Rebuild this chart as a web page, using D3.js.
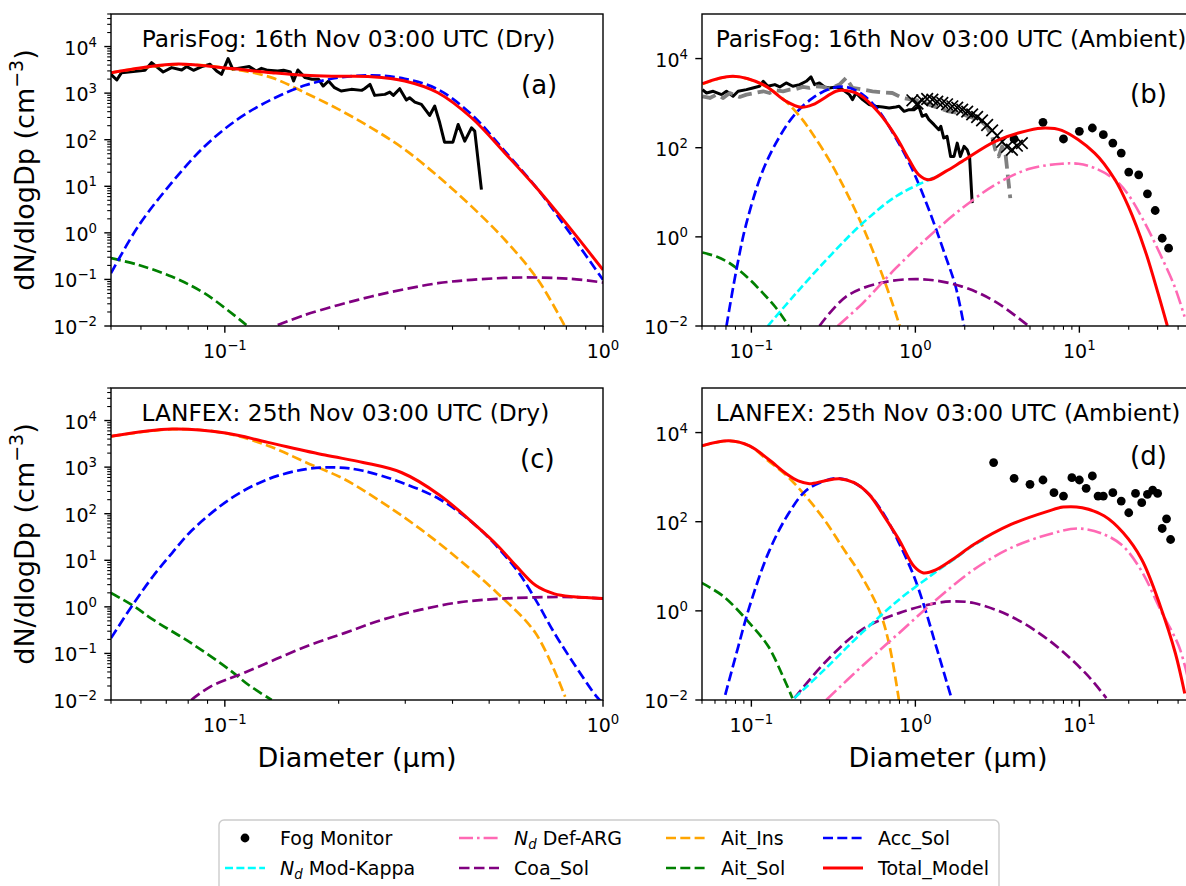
<!DOCTYPE html>
<html>
<head>
<meta charset="utf-8">
<script src="https://cdn.jsdelivr.net/npm/d3@7"></script>
<style>
  body { margin: 0; background: #fff; }
  text { font-family: "DejaVu Sans", sans-serif; fill: #000; }
</style>
</head>
<body>
<svg id="fig" width="1186" height="886"></svg>
<script>
// ---------------- data (Dp in um, N in cm^-3) ----------------

// (a) ParisFog dry
const aObsDp = [0.050,0.0518,0.0533,0.0615,0.0640,0.0687,0.0723,0.0769,0.0793,0.0826,0.0869,0.0914,0.0951,0.0980,0.102,0.105,0.111,0.116,0.121,0.125,0.130,0.138,0.143,0.149,0.152,0.156,0.163,0.170,0.177,0.182,0.188,0.195,0.203,0.216,0.230,0.234,0.242,0.249,0.265,0.273,0.279,0.290,0.302,0.308,0.318,0.331,0.348,0.359,0.370,0.381,0.401,0.414,0.431,0.449,0.458,0.477];
const aObsN  = [2535,1915,2750,3090,4520,2845,3530,3140,3710,3090,3710,4160,2990,2535,5510,3245,3530,3710,2990,3410,3090,2990,3090,2845,1820,3140,2150,1980,1980,1420,1820,1310,1110,1205,1146,1245,1542,895,940,1055,895,1245,710,796,643,573,332,527,231,88.5,88.5,212,93,180,153,8.5];
const aAitSolDp = [0.05, 0.059, 0.0723, 0.0885, 0.114];
const aAitSolN  = [0.286, 0.206, 0.115, 0.05, 0.0105];
const aAitInsDp = [0.05, 0.0753, 0.104, 0.133, 0.163, 0.2, 0.244, 0.299, 0.366, 0.449, 0.55, 0.673, 0.79];
const aAitInsN  = [2750, 4150, 3300, 2150, 1020, 447, 180, 61.5, 16.4, 3.7, 0.71, 0.098, 0.0105];
const aAccDp = [0.05, 0.059, 0.0723, 0.0885, 0.108, 0.133, 0.163, 0.2, 0.244, 0.299, 0.366, 0.449, 0.55, 0.673, 0.824, 1.0];
const aAccN  = [0.136, 1.38, 11.8, 72.6, 272, 733, 1470, 2150, 2410, 2040, 1200, 349, 56.6, 8.5, 0.91, 0.098];
const aCoaDp = [0.138, 0.163, 0.2, 0.244, 0.299, 0.366, 0.449, 0.608, 0.824, 1.0];
const aCoaN  = [0.0105, 0.0173, 0.0283, 0.043, 0.0617, 0.083, 0.098, 0.11, 0.103, 0.0857];
const aTotDp = [0.05, 0.0604, 0.0753, 0.104, 0.133, 0.163, 0.2, 0.244, 0.299, 0.366, 0.449, 0.55, 0.673, 0.824, 1.0];
const aTotN  = [2750, 3520, 4200, 3360, 2750, 2410, 2300, 2250, 1820, 1020, 296, 52, 8.5, 1.17, 0.16];

// (b) ParisFog ambient
const bObsDp = [0.0503,0.0533,0.0585,0.0658,0.0705,0.0774,0.0830,0.0933,0.102,0.112,0.118,0.126,0.139,0.149,0.163,0.179,0.197,0.216,0.231,0.243,0.260,0.279,0.299,0.328,0.360,0.396,0.414,0.434,0.477,0.523,0.574,0.631,0.692,0.760,0.796,0.854,0.916,0.982,1.05,1.10,1.16,1.21,1.30,1.39,1.43,1.49,1.56,1.64,1.72,1.80,1.88,1.98,2.07,2.14,2.22];
const bObsN  = [2010,1690,1845,1552,1845,1425,1845,2010,2190,2390,3095,2390,2605,2310,2840,2390,2605,3095,3870,2605,2840,2310,2190,2310,2010,1552,1200,1690,1200,925,849,820,778,820,849,655,714,714,849,506,552,426,329,254,301,165,180,63.8,63.8,127,63.8,107,90,63.8,5.7];
const bAmbDp = [0.0503,0.0558,0.0612,0.0673,0.0738,0.0849,0.0933,0.105,0.118,0.129,0.142,0.156,0.171,0.187,0.206,0.226,0.248,0.272,0.299,0.344,0.378,0.414,0.477,0.548,0.631,0.724,0.834,0.959,1.10,1.21,1.39,1.60,1.84,2.12,2.44,2.67,2.94,3.07,3.22,3.38,3.54,3.79];
const bAmbN  = [1425,1306,1552,1306,1690,1377,1552,1690,1845,1690,1943,1845,2010,2080,2310,2190,2390,2310,2080,2605,3680,2190,2010,1845,1750,1690,1306,1200,1100,925,778,655,601,506,426,329,180,90,63.8,107,75.9,7.4];
const bCdpDp = [0.959,1.03,1.10,1.18,1.27,1.36,1.46,1.56,1.68,1.80,1.93,2.07,2.22,2.38,2.55,2.74,2.94,3.15,3.38,3.62,3.88,4.16,4.46];
const bCdpN  = [1158,975,1158,1240,1200,1081,1009,942,849,792,714,644,561,489,411,323,245,186,136,104,90,111,127];
const bFogDp = [4, 6, 8, 10, 12, 14, 16, 18, 20, 23, 26, 29, 32, 35];
const bFogN  = [157, 371, 157, 233, 277, 196, 127, 75.9, 28.4, 24.7, 9.25, 3.9, 0.93, 0.556];
const bAitSolDp = [0.0503, 0.0612, 0.0738, 0.0933, 0.118, 0.142, 0.169];
const bAitSolN  = [0.445, 0.361, 0.256, 0.129, 0.054, 0.025, 0.01];
const bAitInsDp = [0.0503, 0.0774, 0.118, 0.163, 0.179, 0.206, 0.237, 0.299, 0.378, 0.477, 0.601, 0.724, 0.803];
const bAitInsN  = [2700, 4000, 2550, 1080, 760, 415, 200, 52, 10.4, 1.71, 0.215, 0.0323, 0.01];
const bAccDp = [0.0705, 0.081, 0.0933, 0.118, 0.149, 0.187, 0.237, 0.299, 0.378, 0.477, 0.601, 0.76, 0.96, 1.21, 1.53, 1.76, 1.98];
const bAccN  = [0.01, 0.181, 2.03, 32, 180, 601, 1306, 2080, 2306, 1552, 655, 165, 32, 4.04, 0.361, 0.077, 0.01];
const bCoaDp = [0.26, 0.378, 0.601, 1.1, 1.93, 3.07, 4.9];
const bCoaN  = [0.01, 0.0456, 0.091, 0.112, 0.0766, 0.0352, 0.01];
const bKapDp = [0.126, 0.187, 0.299, 0.477, 0.76, 1.21, 1.4];
const bKapN  = [0.01, 0.054, 0.361, 2.03, 8.05, 19.1, 24];
const bArgDp = [0.336, 0.477, 0.76, 1.21, 1.93, 3.07, 4.9, 7.81, 9.86, 12.4, 16.5, 19.9, 25.1, 31.6, 38.1, 43.8];
const bArgN  = [0.01, 0.0323, 0.198, 1.02, 4.4, 14.8, 33.2, 43.7, 43.7, 34.9, 19.1, 8.8, 2.03, 0.361, 0.0766, 0.0162];
const bTotDp = [0.0503, 0.0774, 0.118, 0.163, 0.201, 0.237, 0.328, 0.36, 0.455, 0.601, 0.76, 0.916, 1.05, 1.21, 1.53, 1.93, 3.07, 4.9, 6.18, 7.81, 12.4, 16.5, 19.9, 25.1, 30.2, 34.4];
const bTotN  = [2740, 4010, 2600, 1100, 805, 925, 1845, 1940, 1552, 601, 180, 53.7, 24.7, 19.1, 29.4, 49.3, 139, 245, 277, 245, 75.9, 19.1, 4.81, 0.51, 0.054, 0.01];

// (c) LANFEX dry
const cAitSolDp = [0.05, 0.0575, 0.0646, 0.0815, 0.103, 0.1156, 0.133];
const cAitSolN  = [1.99, 1.03, 0.53, 0.166, 0.0443, 0.021, 0.01];
const cAitInsDp = [0.05, 0.0726, 0.1005, 0.130, 0.164, 0.207, 0.261, 0.33, 0.416, 0.525, 0.663, 0.794];
const cAitInsN  = [4550, 6550, 5350, 2885, 1262, 551, 173, 46, 10.4, 1.99, 0.273, 0.0118];
const cAccDp = [0.05, 0.0575, 0.0646, 0.0726, 0.0815, 0.103, 0.130, 0.164, 0.198, 0.232, 0.293, 0.37, 0.468, 0.59, 0.663, 0.744, 0.836, 0.962, 1.0];
const cAccN  = [0.213, 1.21, 4.55, 14.5, 42.5, 204, 551, 905, 984, 834, 468, 204, 50, 6.34, 1.43, 0.273, 0.0617, 0.0118, 0.0085];
const cCoaDp = [0.0815, 0.0916, 0.113, 0.164, 0.207, 0.261, 0.33, 0.416, 0.525, 0.663, 0.836, 1.0];
const cCoaN  = [0.01, 0.0194, 0.0388, 0.141, 0.273, 0.53, 0.87, 1.25, 1.48, 1.6, 1.62, 1.5];
const cTotDp = [0.05, 0.0726, 0.1005, 0.130, 0.184, 0.232, 0.293, 0.37, 0.468, 0.525, 0.59, 0.663, 0.744, 0.836, 1.0];
const cTotN  = [4580, 6590, 5400, 3400, 1815, 1262, 767, 250, 50, 21, 7.5, 2.9, 1.9, 1.65, 1.52];

// (d) LANFEX ambient
const dFogDp = [3, 4, 5, 6, 7, 8, 9, 10, 11, 12, 13, 14, 16, 18, 20, 22, 24, 26, 28, 30, 32, 34, 36];
const dFogN  = [2120, 942, 690, 863, 448, 377, 975, 863, 561, 1062, 377, 377, 448, 291, 159, 432, 267, 411, 514, 432, 70.5, 116, 39.9];
const dAitSolDp = [0.0498, 0.0675, 0.0975, 0.127, 0.156, 0.178];
const dAitSolN  = [4.23, 2.12, 0.53, 0.158, 0.0335, 0.011];
const dAitInsDp = [0.0498, 0.073, 0.0975, 0.127, 0.165, 0.214, 0.278, 0.361, 0.47, 0.611, 0.697, 0.794];
const dAitInsN  = [5000, 6500, 5000, 2310, 1062, 377, 112, 25.9, 5.97, 0.89, 0.158, 0.01];
const dAccDp = [0.0693, 0.0832, 0.0975, 0.127, 0.165, 0.214, 0.278, 0.326, 0.423, 0.522, 0.644, 0.794, 0.98, 1.15, 1.34, 1.66];
const dAccN  = [0.013, 0.158, 1.26, 20, 134, 489, 820, 942, 752, 411, 146, 33.6, 5.97, 1.06, 0.158, 0.011];
const dCoaDp = [0.183, 0.278, 0.47, 0.794, 1.34, 1.74, 2.27, 3.83, 6.47, 10.9, 14.6];
const dCoaN  = [0.011, 0.0668, 0.376, 0.89, 1.5, 1.63, 1.5, 0.75, 0.224, 0.04, 0.011];
const dKapDp = [0.183, 0.278, 0.47, 0.794, 1.15, 1.34, 1.74, 2.27, 2.6];
const dKapN  = [0.011, 0.0473, 0.316, 1.78, 5.0, 7.6, 14.8, 30, 39];
const dArgDp = [0.286, 0.47, 0.794, 1.34, 2.27, 3.83, 6.47, 9.84, 14.2, 18.5, 24, 31.2, 40.5, 46];
const dArgN  = [0.01, 0.0562, 0.316, 1.78, 8.4, 25.9, 51.6, 70.5, 51.6, 28.2, 7.7, 1.06, 0.158, 0.03];
const dTotDp = [0.0498, 0.073, 0.0975, 0.127, 0.165, 0.193, 0.226, 0.278, 0.343, 0.423, 0.522, 0.644, 0.794, 0.98, 1.12, 1.34, 1.74, 2.27, 3.83, 6.47, 7.98, 10.4, 14.2, 18.5, 24, 31.2, 38.5, 43.9];
const dTotN  = [5020, 6520, 5020, 2520, 1160, 820, 714, 820, 925, 752, 411, 134, 39.9, 10, 7.1, 8.4, 15.4, 30.8, 86.7, 173, 213, 206, 134, 56.4, 14.2, 1.26, 0.112, 0.014];

const legendLabels = ["Fog Monitor", "Nd Mod-Kappa", "Nd Def-ARG", "Coa_Sol", "Ait_Ins", "Ait_Sol", "Acc_Sol", "Total_Model"];

// ---------------- styles ----------------
const sty = {
  obs:    {stroke: "black",   width: 3,   dash: null,          smooth: false},
  amb:    {stroke: "gray",    width: 3.8, dash: "14,6",        smooth: false},
  aitSol: {stroke: "green",   width: 2.7, dash: "10,4.3",      smooth: true},
  aitIns: {stroke: "orange",  width: 2.7, dash: "10,4.3",      smooth: true},
  acc:    {stroke: "blue",    width: 2.7, dash: "10,4.3",      smooth: true},
  coa:    {stroke: "purple",  width: 2.7, dash: "10.5,4.5",    smooth: true},
  kap:    {stroke: "cyan",    width: 2.6, dash: "8,3.4",       smooth: true},
  arg:    {stroke: "hotpink", width: 2.6, dash: "14,4,2.6,4",  smooth: true},
  tot:    {stroke: "red",     width: 3,   dash: null,          smooth: true}
};

const PW = 492, PH = 312;
const panels = [
  {key: "a", left: 111, top: 14, xmax: 1, ymax: 5e4, minorY: true,
   title: "ParisFog: 16th Nov 03:00 UTC (Dry)", titleX: 141.7, tag: "(a)", tagX: 521, tagY: 93.5, ylabel: true, xlabel: false,
   layers: [["line", aObsDp, aObsN, "obs"], ["line", aAitSolDp, aAitSolN, "aitSol"], ["line", aAitInsDp, aAitInsN, "aitIns"],
            ["line", aAccDp, aAccN, "acc"], ["line", aCoaDp, aCoaN, "coa"], ["line", aTotDp, aTotN, "tot"]]},
  {key: "b", left: 702, top: 14, xmax: 50, ymax: 1e5, minorY: false,
   title: "ParisFog: 16th Nov 03:00 UTC (Ambient)", titleX: 715.7, tag: "(b)", tagX: 1130, tagY: 103, ylabel: false, xlabel: false,
   layers: [["line", bObsDp, bObsN, "obs"], ["line", bAmbDp, bAmbN, "amb"], ["cross", bCdpDp, bCdpN], ["dot", bFogDp, bFogN],
            ["line", bAitSolDp, bAitSolN, "aitSol"], ["line", bAitInsDp, bAitInsN, "aitIns"], ["line", bAccDp, bAccN, "acc"],
            ["line", bCoaDp, bCoaN, "coa"], ["line", bKapDp, bKapN, "kap"], ["line", bArgDp, bArgN, "arg"], ["line", bTotDp, bTotN, "tot"]]},
  {key: "c", left: 111, top: 388, xmax: 1, ymax: 5e4, minorY: true,
   title: "LANFEX: 25th Nov 03:00 UTC (Dry)", titleX: 141.6, tag: "(c)", tagX: 520, tagY: 468, ylabel: true, xlabel: true,
   layers: [["line", cAitSolDp, cAitSolN, "aitSol"], ["line", cAitInsDp, cAitInsN, "aitIns"], ["line", cAccDp, cAccN, "acc"],
            ["line", cCoaDp, cCoaN, "coa"], ["line", cTotDp, cTotN, "tot"]]},
  {key: "d", left: 702, top: 388, xmax: 50, ymax: 1e5, minorY: false,
   title: "LANFEX: 25th Nov 03:00 UTC (Ambient)", titleX: 715.8, tag: "(d)", tagX: 1130, tagY: 465, ylabel: false, xlabel: true,
   layers: [["dot", dFogDp, dFogN], ["line", dAitSolDp, dAitSolN, "aitSol"], ["line", dAitInsDp, dAitInsN, "aitIns"],
            ["line", dAccDp, dAccN, "acc"], ["line", dCoaDp, dCoaN, "coa"], ["line", dKapDp, dKapN, "kap"],
            ["line", dArgDp, dArgN, "arg"], ["line", dTotDp, dTotN, "tot"]]}
];

const svg = d3.select("#fig");
const defs = svg.append("defs");
const pts = (xs, ys) => xs.map((v, i) => [v, ys[i]]);
const crossPath = "M-5.8,-5.8L5.8,5.8M-5.8,5.8L5.8,-5.8";

function sciLabel(t, e) {
  t.append("tspan").text("10");
  t.append("tspan").attr("dy", -8).attr("font-size", 13.3).text(e < 0 ? "\u2212" + (-e) : e);
}

function drawPanel(p) {
  const x = d3.scaleLog().domain([0.05, p.xmax]).range([p.left, p.left + PW]);
  const y = d3.scaleLog().domain([0.01, p.ymax]).range([p.top + PH, p.top]);
  const bottom = p.top + PH;

  defs.append("clipPath").attr("id", "clip-" + p.key)
    .append("rect").attr("x", p.left).attr("y", p.top).attr("width", PW).attr("height", PH);
  const plot = svg.append("g").attr("clip-path", `url(#clip-${p.key})`);

  p.layers.forEach(([kind, xs, ys, s]) => {
    const data = pts(xs, ys);
    if (kind === "line") {
      const st = sty[s];
      const line = d3.line().x(d => x(d[0])).y(d => y(d[1]))
        .curve(st.smooth ? d3.curveCatmullRom.alpha(0.5) : d3.curveLinear);
      plot.append("path").datum(data).attr("d", line)
        .attr("fill", "none").attr("stroke", st.stroke).attr("stroke-width", st.width)
        .attr("stroke-dasharray", st.dash).attr("stroke-linejoin", "round");
    } else if (kind === "cross") {
      plot.selectAll(null).data(data).join("path")
        .attr("d", crossPath).attr("transform", d => `translate(${x(d[0])},${y(d[1])})`)
        .attr("stroke", "black").attr("stroke-width", 1.7).attr("fill", "none");
    } else {
      plot.selectAll(null).data(data).join("circle")
        .attr("cx", d => x(d[0])).attr("cy", d => y(d[1])).attr("r", 4.4).attr("fill", "black");
    }
  });

  // spines
  svg.append("rect").attr("x", p.left).attr("y", p.top).attr("width", PW).attr("height", PH)
    .attr("fill", "none").attr("stroke", "black").attr("stroke-width", 1.4);

  const axis = svg.append("g");
  // x ticks
  const xMaj = [], xMin = [];
  for (let k = -2; k <= 2; k++) {
    for (let m = 1; m <= 9; m++) {
      const v = m * Math.pow(10, k);
      if (v < 0.0499 || v > p.xmax * 1.0001) continue;
      (m === 1 ? xMaj : xMin).push(v);
    }
  }
  axis.selectAll(null).data(xMin).join("line")
    .attr("x1", d => x(d)).attr("x2", d => x(d)).attr("y1", bottom).attr("y2", bottom + 3.8)
    .attr("stroke", "black").attr("stroke-width", 1.1);
  axis.selectAll(null).data(xMaj).join("line")
    .attr("x1", d => x(d)).attr("x2", d => x(d)).attr("y1", bottom).attr("y2", bottom + 6.7)
    .attr("stroke", "black").attr("stroke-width", 1.4);
  xMaj.forEach(v => {
    const t = axis.append("text").attr("x", x(v)).attr("y", bottom + 32)
      .attr("text-anchor", "middle").attr("font-size", 19);
    sciLabel(t, Math.round(Math.log10(v)));
  });

  // y ticks
  const yMaj = [], yMin = [];
  for (let k = -2; k <= 5; k++) {
    const v = Math.pow(10, k);
    if (v <= p.ymax * 1.0001 && (p.minorY || k % 2 === 0)) yMaj.push(v);
    if (p.minorY) for (let m = 2; m <= 9; m++) if (m * v <= p.ymax * 1.0001) yMin.push(m * v);
  }
  axis.selectAll(null).data(yMin).join("line")
    .attr("x1", p.left).attr("x2", p.left - 3.8).attr("y1", d => y(d)).attr("y2", d => y(d))
    .attr("stroke", "black").attr("stroke-width", 1.1);
  axis.selectAll(null).data(yMaj).join("line")
    .attr("x1", p.left).attr("x2", p.left - 6.7).attr("y1", d => y(d)).attr("y2", d => y(d))
    .attr("stroke", "black").attr("stroke-width", 1.4);
  yMaj.forEach(v => {
    const t = axis.append("text").attr("x", p.left - 14).attr("y", y(v) + 8)
      .attr("text-anchor", "end").attr("font-size", 19);
    sciLabel(t, Math.round(Math.log10(v)));
  });

  // texts
  svg.append("text").attr("x", p.titleX).attr("y", p.top + 32.7).attr("font-size", 23.3).text(p.title);
  svg.append("text").attr("x", p.tagX).attr("y", p.tagY).attr("font-size", 26).text(p.tag);

  if (p.ylabel) {
    const t = svg.append("text").attr("transform", `translate(34,${p.top + PH / 2}) rotate(-90)`)
      .attr("text-anchor", "middle").attr("font-size", 27);
    t.append("tspan").text("dN/dlogDp (cm");
    t.append("tspan").attr("dy", -11).attr("font-size", 19).text("\u22123");
    t.append("tspan").attr("dy", 11).text(")");
  }
  if (p.xlabel) {
    svg.append("text").attr("x", p.left + PW / 2).attr("y", bottom + 67)
      .attr("text-anchor", "middle").attr("font-size", 27).text("Diameter (\u00b5m)");
  }
}

panels.forEach(drawPanel);

// ---------------- legend ----------------
const leg = svg.append("g");
leg.append("rect").attr("x", 219).attr("y", 820).attr("width", 780).attr("height", 90).attr("rx", 5)
  .attr("fill", "white").attr("stroke", "#cccccc").attr("stroke-width", 1.4);

const legStyles = ["fog", "kap", "arg", "coa", "aitIns", "aitSol", "acc", "tot"];
const colX = [225, 459, 666, 823];
const rowY = [838, 868];
legendLabels.forEach((lab, i) => {
  const cx = colX[Math.floor(i / 2)], cy = rowY[i % 2];
  const s = legStyles[i];
  if (s === "fog") {
    leg.append("circle").attr("cx", cx + 20).attr("cy", cy).attr("r", 4.4).attr("fill", "black");
  } else {
    const st = sty[s];
    leg.append("line").attr("x1", cx).attr("x2", cx + 40).attr("y1", cy).attr("y2", cy)
      .attr("stroke", st.stroke).attr("stroke-width", st.width).attr("stroke-dasharray", st.dash);
  }
  const t = leg.append("text").attr("x", cx + 55).attr("y", cy + 7).attr("font-size", 19);
  if (lab.startsWith("Nd ")) {
    t.append("tspan").attr("font-style", "italic").text("N");
    t.append("tspan").attr("font-style", "italic").attr("font-size", 13.3).attr("dy", 4).text("d");
    t.append("tspan").attr("dy", -4).text(" " + lab.slice(3));
  } else {
    t.text(lab);
  }
});
</script>
</body>
</html>
